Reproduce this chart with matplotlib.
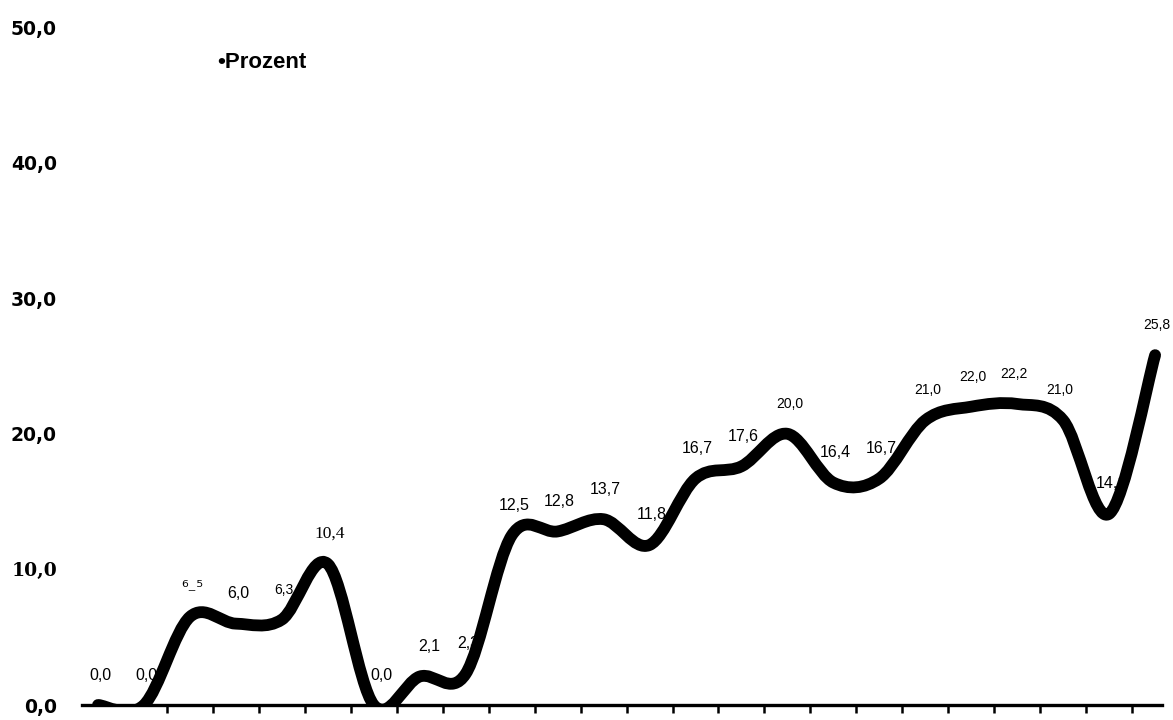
import matplotlib
matplotlib.use("Agg")
import matplotlib.pyplot as plt
from matplotlib.path import Path
from matplotlib.patches import PathPatch
import numpy as np

# ---- data ----
values = [0.0, 0.0, 6.5, 6.0, 6.3, 10.4, 0.0, 2.1, 2.3, 12.5, 12.8, 13.7,
          11.8, 16.7, 17.6, 20.0, 16.4, 16.7, 21.0, 22.0, 22.2, 21.0, 14.1, 25.8]
point_labels = ["0,0", "0,0", "⁶₋⁵", "6,0", "6,3", "10,4", "0,0", "2,1", "2,3",
                "12,5", "12,8", "13,7", "11,8", "16,7", "17,6", "20,0", "16,4",
                "16,7", "21,0", "22,0", "22,2", "21,0", "14,1", "25,8"]
y_ticks = [0, 10, 20, 30, 40, 50]
y_tick_labels = ["0,0", "10,0", "20,0", "30,0", "40,0", "50,0"]
series_name = "Prozent"

# ---- styles ----
small_idx = {4, 15, 18, 19, 20, 21, 23}
serif_idx = {5}
label_dx = {6: 4, 7: 5, 20: -4, 21: -4}   # points

fig = plt.figure(figsize=(11.73, 7.2), dpi=100)
ax = fig.add_axes([82 / 1173, 15 / 720, 1080 / 1173, (705 - 27) / 720])

n = len(values)
x = np.arange(n, dtype=float)
pts = np.column_stack([x, np.array(values, dtype=float)])

# smoothed line (Bezier through the points, like a spreadsheet "smoothed line")
verts = [pts[0]]
codes = [Path.MOVETO]
for i in range(n - 1):
    p_prev = pts[max(i - 1, 0)]
    p0 = pts[i]
    p1 = pts[i + 1]
    p_next = pts[min(i + 2, n - 1)]
    c1 = p0 + (p1 - p_prev) / 6.0
    c2 = p1 - (p_next - p0) / 6.0
    verts += [c1, c2, p1]
    codes += [Path.CURVE4] * 3
patch = PathPatch(Path(verts, codes), facecolor="none", edgecolor="black",
                  lw=8.5, capstyle="round", joinstyle="round", zorder=4)
ax.add_patch(patch)

# data labels
for i, (xv, v, lab) in enumerate(zip(x, values, point_labels)):
    if i in serif_idx:
        fam, size = ["Liberation Serif"], 12.5
    elif lab.startswith("⁶"):
        fam, size = ["DejaVu Sans"], 12
    elif i in small_idx:
        fam, size = ["Liberation Sans"], 10
    else:
        fam, size = ["Liberation Sans"], 11.5
    ax.annotate(lab, (xv, v), xytext=(1.5 + label_dx.get(i, 0), 21.6),
                textcoords="offset points", ha="center", va="center",
                family=fam, fontsize=size, color="black", zorder=3)

ax.set_xlim(-0.348, 23.15)
ax.set_ylim(0, 50)

ax.set_xticks(np.arange(1.5, n - 1, 1.0))
ax.tick_params(axis="x", direction="out", length=6, width=1.8,
               labelbottom=False, color="black")
ax.set_yticks(y_ticks, y_tick_labels)
ax.tick_params(axis="y", length=0, pad=18)
for t in ax.get_yticklabels():
    if t.get_text() == "10,0":
        t.set_family("DejaVu Serif")
    else:
        t.set_family("DejaVu Sans")
    t.set_fontweight("bold")
    t.set_fontsize(13.5)

for s in ["top", "right", "left"]:
    ax.spines[s].set_visible(False)
ax.spines["bottom"].set_linewidth(2.4)
ax.spines["bottom"].set_color("black")
ax.patch.set_alpha(0)

fig.text(217 / 1173, 1 - 62 / 720, "•" + series_name, family="Liberation Sans",
         fontweight="bold", fontsize=16, va="center", ha="left")

fig.savefig("out.png", dpi=100, facecolor="white")
